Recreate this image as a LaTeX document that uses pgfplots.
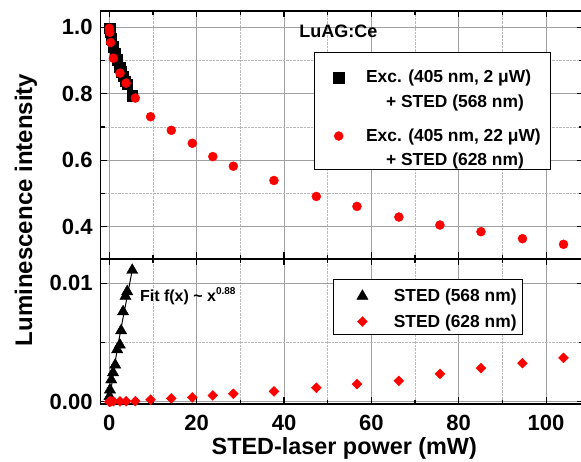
\documentclass[border=0pt]{standalone}
\usepackage{fontspec}
\setmainfont{Liberation Sans}
\usepackage{pgfplots}
\pgfplotsset{compat=1.18}

\definecolor{gridmaj}{RGB}{160,160,160}
\definecolor{gridmin}{RGB}{185,185,185}

\pgfplotsset{
  panel/.style={
    scale only axis, width=482.3pt,
    xmin=-1.97, xmax=108.46,
    xtick={0,20,...,100}, minor x tick num=1,
    tick align=inside, major tick length=6.5pt, minor tick length=4pt,
    every tick/.style={black, line width=1.1pt},
    axis line style={line width=1.4pt},
    grid=both,
    major grid style={gridmaj, line width=0.7pt},
    minor grid style={gridmin, densely dotted, line width=0.7pt},
    tick label style={font=\bfseries\fontsize{22}{26}\selectfont},
    /pgf/number format/assume math mode=true,
    yticklabel style={anchor=east, inner sep=0pt, xshift=-8pt},
    clip=false,
  },
}

\begin{document}
\begin{tikzpicture}
\path[use as bounding box] (0,0) rectangle (581pt,462pt);

% upper panel: normalised luminescence
\begin{axis}[panel,
  at={(100.7pt,203pt)}, anchor=south west, height=248pt,
  ymin=0.3028, ymax=1.049,
  ytick={0.4,0.6,0.8,1.0}, minor y tick num=1,
  xticklabels={},
  /pgf/number format/fixed, /pgf/number format/fixed zerofill,
  /pgf/number format/precision=1,
  legend image code/.code={\path (0pt,0pt) (41pt,0pt); \draw[#1] plot coordinates {(16pt,5pt)};},
  legend style={at={(0.4423,0.8347)}, anchor=north west, draw=black, line width=0.7pt,
    inner xsep=8pt, inner ysep=0.5pt, row sep=0pt,
    font=\bfseries\fontsize{17.4}{26.6}\selectfont,
    cells={anchor=base west}, nodes={inner sep=2pt}},
]
\addplot[only marks, mark=square*, mark size=5.2pt, mark options={draw=black, fill=black, line width=0.4pt}]
  coordinates {(0.05,0.998) (0.15,0.985) (0.45,0.966) (0.85,0.942) (1.35,0.921) (1.8,0.903)
    (2.4,0.879) (2.7,0.866) (3.15,0.853) (3.7,0.838) (4.1,0.829) (5.25,0.794)};
\addlegendentry{\rule{0pt}{28pt}Exc. (405 nm, 2 μW)}
\addlegendimage{empty legend}
\addlegendentry{\rule{0pt}{18.9pt}\hspace*{20pt}+ STED (568 nm)}
\addplot[only marks, mark=*, mark size=4.5pt, mark options={draw=red, fill=red, line width=0.4pt}]
  coordinates {(0.0,0.997) (0.1,0.985) (0.3,0.954) (0.93,0.907) (2.45,0.862) (3.85,0.832)
    (5.95,0.787) (9.45,0.731) (14.2,0.690) (19.0,0.651) (23.7,0.611) (28.4,0.582)
    (37.7,0.539) (47.4,0.491) (56.7,0.461) (66.3,0.429) (75.7,0.405) (85.1,0.385)
    (94.6,0.364) (104.0,0.347)};
\addlegendentry{\rule{0pt}{28.3pt}Exc. (405 nm, 22 μW)}
\addlegendimage{empty legend}
\addlegendentry{\rule{0pt}{18.9pt}\hspace*{20pt}+ STED (628 nm)}
\node[anchor=base west, inner sep=0pt, font=\bfseries\fontsize{18}{22}\selectfont]
  at (axis cs:43.5,0.969) {LuAG:Ce};
\end{axis}

% lower panel: STED-induced luminescence
\begin{axis}[panel,
  at={(100.7pt,58pt)}, anchor=south west, height=145pt,
  ymin=-0.000194, ymax=0.01205,
  ytick={0,0.01}, yticklabels={0.00,0.01}, minor ytick={0.005},
  scaled y ticks=false,
  xticklabel style={anchor=base, yshift=-27pt},
  xlabel={STED-laser power (mW)},
  xlabel style={at={(axis description cs:0.505,0)}, anchor=base, yshift=-50.3pt,
    font=\bfseries\fontsize{23.4}{28}\selectfont},
  legend image code/.code={\path (0pt,0pt) (53.7pt,0pt); \draw[#1] plot coordinates {(24.7pt,5.5pt)};},
  legend style={at={(0.4817,0.862)}, anchor=north west, draw=black, line width=0.7pt,
    inner xsep=4pt, inner ysep=3.3pt, row sep=7.3pt,
    font=\bfseries\fontsize{17.4}{26.6}\selectfont,
    cells={anchor=base west}, nodes={inner sep=2pt}},
]
\addplot[black, line width=1pt, forget plot]
  coordinates {(0,0) (1,0.0026) (2,0.0048) (3,0.0068) (4,0.0087) (5.3,0.0112)};
\addplot[only marks, mark=triangle*, mark size=6.5pt, mark options={draw=black, fill=black, line width=0.4pt}]
  coordinates {(0.05,0.00045) (0.15,0.0010) (0.45,0.00185) (0.85,0.00246) (1.35,0.0031)
    (1.8,0.0044) (2.4,0.0048) (2.7,0.0060) (3.15,0.0076) (3.7,0.0089) (4.1,0.0093) (5.25,0.0111)};
\addlegendentry{\rule{0pt}{17pt}STED (568 nm)}
\addplot[only marks, mark=square*, mark size=3.5pt, mark options={rotate=45, draw=red, fill=red, line width=0.4pt}]
  coordinates {(0.0,0.0) (0.1,0.0) (0.3,0.00002) (0.93,0.00003) (2.45,0.00003) (3.85,0.00003)
    (5.95,0.00004) (9.45,0.00017) (14.2,0.00028) (19.0,0.00036) (23.7,0.00053) (28.4,0.00067)
    (37.7,0.00087) (47.4,0.00118) (56.7,0.00148) (66.3,0.00176) (75.7,0.00235) (85.1,0.00283)
    (94.6,0.00325) (104.0,0.0037)};
\addlegendentry{STED (628 nm)}
\node[anchor=base west, inner sep=0pt, font=\bfseries\fontsize{16}{20}\selectfont]
  at (axis cs:7.0,0.00845) {Fit f(x) \textasciitilde{} x\raisebox{7pt}{\fontsize{10}{12}\selectfont 0.88}};
\end{axis}

\node[rotate=90, font=\bfseries\fontsize{24}{28}\selectfont] at (26pt,252pt) {Luminescence intensity};
\end{tikzpicture}
\end{document}
